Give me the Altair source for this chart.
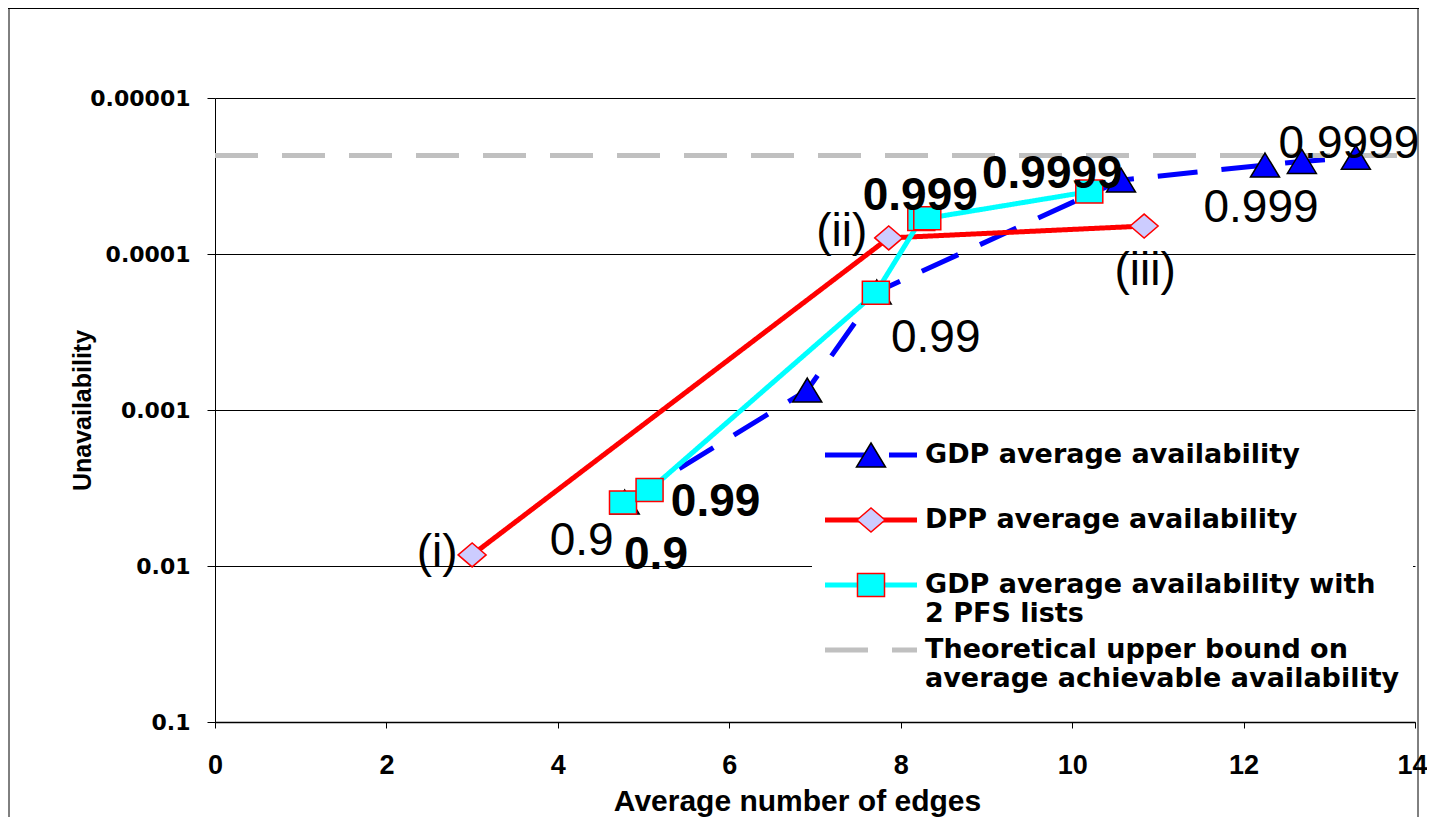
import altair as alt
import pandas as pd

# ---------------- data ----------------
gdp_x = [4.78, 6.91, 7.72, 10.57, 12.25, 12.68, 13.31]
gdp_y = [0.00389, 0.000745, 0.000175, 0.0000336, 0.0000269, 0.0000255, 0.0000240]

dpp_x = [3.00, 7.86, 10.84]
dpp_y = [0.00849, 0.0000789, 0.0000662]

pfs_x = [4.76, 5.07, 7.71, 8.24, 8.31, 10.20]
pfs_y = [0.00392, 0.00326, 0.000177, 0.0000597, 0.0000591, 0.0000398]

bound_x = [0, 14]
bound_y = [0.0000234, 0.0000234]

series_names = [
    "GDP average availability",
    "DPP average availability",
    "GDP average availability with|2 PFS lists",
    "Theoretical upper bound on|average achievable availability",
]

label_text = ["0.9", "0.99", "0.999", "0.9999",
              "0.9", "0.99", "0.999", "0.9999",
              "(i)", "(ii)", "(iii)"]
label_series = [0, 0, 0, 0, 2, 2, 2, 2, 1, 1, 1]
label_point = [0, 2, 4, 6, 0, 1, 3, 5, 0, 1, 2]

x_ticks = [0, 2, 4, 6, 8, 10, 12, 14]
y_ticks = [0.00001, 0.0001, 0.001, 0.01, 0.1]

# ---------------- tables ----------------
all_x = [gdp_x, dpp_x, pfs_x, bound_x]
all_y = [gdp_y, dpp_y, pfs_y, bound_y]

lines_df = pd.concat(
    [pd.DataFrame({"x": xs, "y": ys, "series": nm})
     for nm, xs, ys in zip(series_names, all_x, all_y)],
    ignore_index=True,
)
points_df = pd.concat(
    [pd.DataFrame({"x": xs, "y": ys, "series": nm})
     for nm, xs, ys in zip(series_names[:3], all_x[:3], all_y[:3])],
    ignore_index=True,
)
labels_df = pd.DataFrame({
    "k": list(range(len(label_text))),
    "text": label_text,
    "x": [all_x[s][p] for s, p in zip(label_series, label_point)],
    "y": [all_y[s][p] for s, p in zip(label_series, label_point)],
})

# ---------------- styles ----------------
LINE_COLORS = ["#0000FF", "#FF0000", "#00FFFF", "#C0C0C0"]
LINE_DASH = [[40, 24], [1, 0], [1, 0], [43, 24]]
LINE_WIDTH = [5, 5, 4, 6]
MARK_FILL = ["#0000FF", "#CCCCFF", "#00FFFF"]
MARK_OUTLINE = ["#000000", "#FF0000", "#FF0000"]

# legend symbol "size" chosen so both legends get the same entry size (46 px)
SYM_LINE = 1681        # sqrt = 41 (+5 stroke)  -> unit 20.5 px
SYM_MARK = 1980.25     # sqrt = 44.5 (+1.5 stroke) -> unit 22.25 px
LINE_SYMBOL = "M-2.244,0L2.244,0"
MARK_PATHS = [
    "M0,-0.539L0.652,0.539L-0.652,0.539Z",                        # triangle
    "M-0.629,0L0,-0.539L0.629,0L0,0.539Z",                        # diamond
    "M-0.607,-0.517L0.607,-0.517L0.607,0.517L-0.607,0.517Z",      # square
]

common_legend = dict(
    title=None, orient="none", legendX=597, legendY=321,
    labelFont="DejaVu Sans", labelFontSize=27,
    labelFontWeight="bold", labelColor="black", labelLimit=900,
    symbolOffset=23, labelOffset=31, labelBaseline="middle",
    labelExpr="split(datum.label + (indexof(datum.label, '|') < 0 ? '|' : ''), '|')",
    padding=13, rowPadding=0,
)
line_legend = alt.Legend(symbolType=LINE_SYMBOL, symbolSize=SYM_LINE, symbolStrokeWidth=5,
                         fillColor="white", zindex=1, **common_legend)
marker_legend = alt.Legend(symbolSize=SYM_MARK, symbolStrokeWidth=1.5, symbolOpacity=1,
                           labelOpacity=0, zindex=2, **common_legend)

X_ENC = alt.X(
    "x:Q",
    scale=alt.Scale(domain=[0, 14], nice=False, zero=False),
    axis=alt.Axis(
        values=x_ticks, format="d", title="Average number of edges",
        titleFont="Liberation Sans", titleFontSize=30, titleFontWeight="bold",
        titleColor="black", titleY=88, titleX=582, titleBaseline="alphabetic",
        labelFont="Liberation Sans", labelFontSize=27, labelFontWeight="bold",
        labelColor="black", labelPadding=24, tickSize=6, tickColor="black",
        labelOffset={"condition": {"test": "datum.value == 14", "value": -3}, "value": 0},
        domainColor="black", domainWidth=1.5, grid=False,
        labelFlush=False, labelOverlap=False,
    ),
)
Y_ENC = alt.Y(
    "y:Q",
    scale=alt.Scale(type="log", domain=[0.00001, 0.1], reverse=True, nice=False),
    axis=alt.Axis(
        values=y_ticks, format=".5~f", title="Unavailability",
        titleFont="Liberation Sans", titleFontSize=25, titleFontWeight="bold",
        titleColor="black", titleAngle=270, titleX=-125, titleBaseline="alphabetic",
        labelFont="DejaVu Sans", labelFontSize=22, labelFontWeight="bold",
        labelColor="black", labelPadding=17, tickSize=8, tickColor="black",
        domainColor="black", domainWidth=1, grid=True, gridColor="black",
        gridWidth=1, gridOpacity=1, labelOverlap=False, labelFlush=False,
    ),
)

layers = []

# outer frame of the chart
frame_df = pd.DataFrame({"a": [0]})
layers.append(alt.Chart(frame_df).mark_rule(color="#000000", strokeWidth=1).encode(
    x=alt.value(-206), y=alt.value(-90), y2=alt.value(719)))
layers.append(alt.Chart(frame_df).mark_rule(color="#000000", strokeWidth=1).encode(
    x=alt.value(-207), x2=alt.value(1204), y=alt.value(-89.5)))
layers.append(alt.Chart(frame_df).mark_rule(color="#000000", strokeWidth=1).encode(
    x=alt.value(1203), y=alt.value(-90), y2=alt.value(719)))

# lines
layers.append(alt.Chart(lines_df).mark_line().encode(
    x=X_ENC, y=Y_ENC,
    color=alt.Color("series:N", scale=alt.Scale(domain=series_names, range=LINE_COLORS),
                    legend=line_legend),
    strokeDash=alt.StrokeDash("series:N", scale=alt.Scale(domain=series_names, range=LINE_DASH),
                              legend=line_legend),
    strokeWidth=alt.StrokeWidth("series:N", scale=alt.Scale(domain=series_names, range=LINE_WIDTH),
                                legend=None),
))

# markers
layers.append(alt.Chart(points_df).mark_point(
    filled=True, opacity=1, size=SYM_MARK, strokeWidth=1.5
).encode(
    x=X_ENC, y=Y_ENC,
    fill=alt.Fill("series:N", scale=alt.Scale(domain=series_names[:3], range=MARK_FILL),
                  legend=marker_legend),
    stroke=alt.Stroke("series:N", scale=alt.Scale(domain=series_names[:3], range=MARK_OUTLINE),
                      legend=marker_legend),
    shape=alt.Shape("series:N", scale=alt.Scale(domain=series_names[:3], range=MARK_PATHS),
                    legend=marker_legend),
))

# data labels: (bold?, dx, dy) per label
label_style = [
    (False, -43, 39), (False, 59, 46), (False, -4, 43), (False, -7, -13),
    (True, 33, 52), (True, 66, 12), (True, -1, -23), (True, -37, -18),
    (False, -35, -2), (False, -47, -6), (False, 1, 45),
]
for k, (bold, dx, dy) in enumerate(label_style):
    layers.append(alt.Chart(labels_df).transform_filter(f"datum.k == {k}").mark_text(
        font="Liberation Sans", fontSize=46, fontWeight="bold" if bold else "normal",
        color="black", align="center", baseline="middle", dx=dx, dy=dy,
    ).encode(x=X_ENC, y=Y_ENC, text="text:N"))

chart = alt.layer(*layers).properties(
    width=1200, height=624,
    autosize=alt.AutoSizeParams(type="none"),
    padding={"left": 207, "top": 90, "right": 12, "bottom": 95},
    background="white",
).configure_view(stroke=None)

chart.save("out.html", embed_options={"renderer": "svg", "actions": False})
